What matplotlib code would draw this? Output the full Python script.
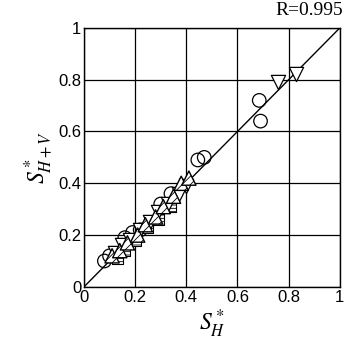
import matplotlib
matplotlib.use("Agg")
import matplotlib.pyplot as plt
import numpy as np

plt.rcParams['font.family'] = ['Liberation Sans', 'DejaVu Sans']
plt.rcParams['mathtext.fontset'] = 'stix'
plt.rcParams['hatch.linewidth'] = 0.6

# data
circ_x = [0.08, 0.10, 0.16, 0.19, 0.22, 0.30, 0.34, 0.445, 0.47, 0.685, 0.69]
circ_y = [0.10, 0.12, 0.19, 0.21, 0.22, 0.32, 0.36, 0.49, 0.50, 0.72, 0.64]
down_x = [0.12, 0.15, 0.18, 0.22, 0.26, 0.29, 0.33, 0.37, 0.40, 0.76, 0.83]
down_y = [0.13, 0.16, 0.18, 0.22, 0.25, 0.29, 0.32, 0.36, 0.39, 0.79, 0.82]
up_x = [0.11, 0.14, 0.17, 0.21, 0.24, 0.28, 0.31, 0.35, 0.38, 0.41]
up_y = [0.12, 0.14, 0.17, 0.20, 0.24, 0.27, 0.31, 0.35, 0.40, 0.42]
sq_x = [0.13, 0.16, 0.20, 0.25, 0.29, 0.34]
sq_y = [0.11, 0.14, 0.18, 0.23, 0.26, 0.31]
ticks = [0, 0.2, 0.4, 0.6, 0.8, 1]
tick_labels = ['0', '0.2', '0.4', '0.6', '0.8', '1']

fig = plt.figure(figsize=(3.44, 3.44), dpi=100)
ax = fig.add_axes([0.244, 0.166, 0.744, 0.753])

ax.plot([0, 1], [0, 1], color='black', lw=1.0, zorder=2)
ax.scatter(circ_x, circ_y, s=95, marker='o', facecolors='none', edgecolors='black', lw=0.9, zorder=3)
ax.scatter(sq_x, sq_y, s=60, marker='s', facecolors='white', edgecolors='black', hatch='-----', lw=0.8, zorder=3)
ax.scatter(down_x, down_y, s=105, marker='v', facecolors='white', edgecolors='black', lw=0.9, zorder=4)
ax.scatter(up_x, up_y, s=105, marker='^', facecolors='white', edgecolors='black', hatch='////', lw=1.0, zorder=4)

ax.set_xlim(0, 1)
ax.set_ylim(0, 1)
ax.set_xticks(ticks)
ax.set_yticks(ticks)
ax.set_xticklabels(tick_labels)
ax.set_yticklabels(tick_labels)
ax.tick_params(length=0, labelsize=12, pad=2)
ax.grid(True, color='black', lw=0.9)
ax.set_axisbelow(True)
for sp in ax.spines.values():
    sp.set_linewidth(1.0)

ax.set_xlabel(r'$S^*_{H}$', fontsize=17, labelpad=2)
ax.set_ylabel(r'$S^*_{H+V}$', fontsize=17, labelpad=2)
fig.text(0.997, 0.995, 'R=0.995', ha='right', va='top', fontsize=14, family='Liberation Serif')

fig.savefig('out.png', dpi=100)
